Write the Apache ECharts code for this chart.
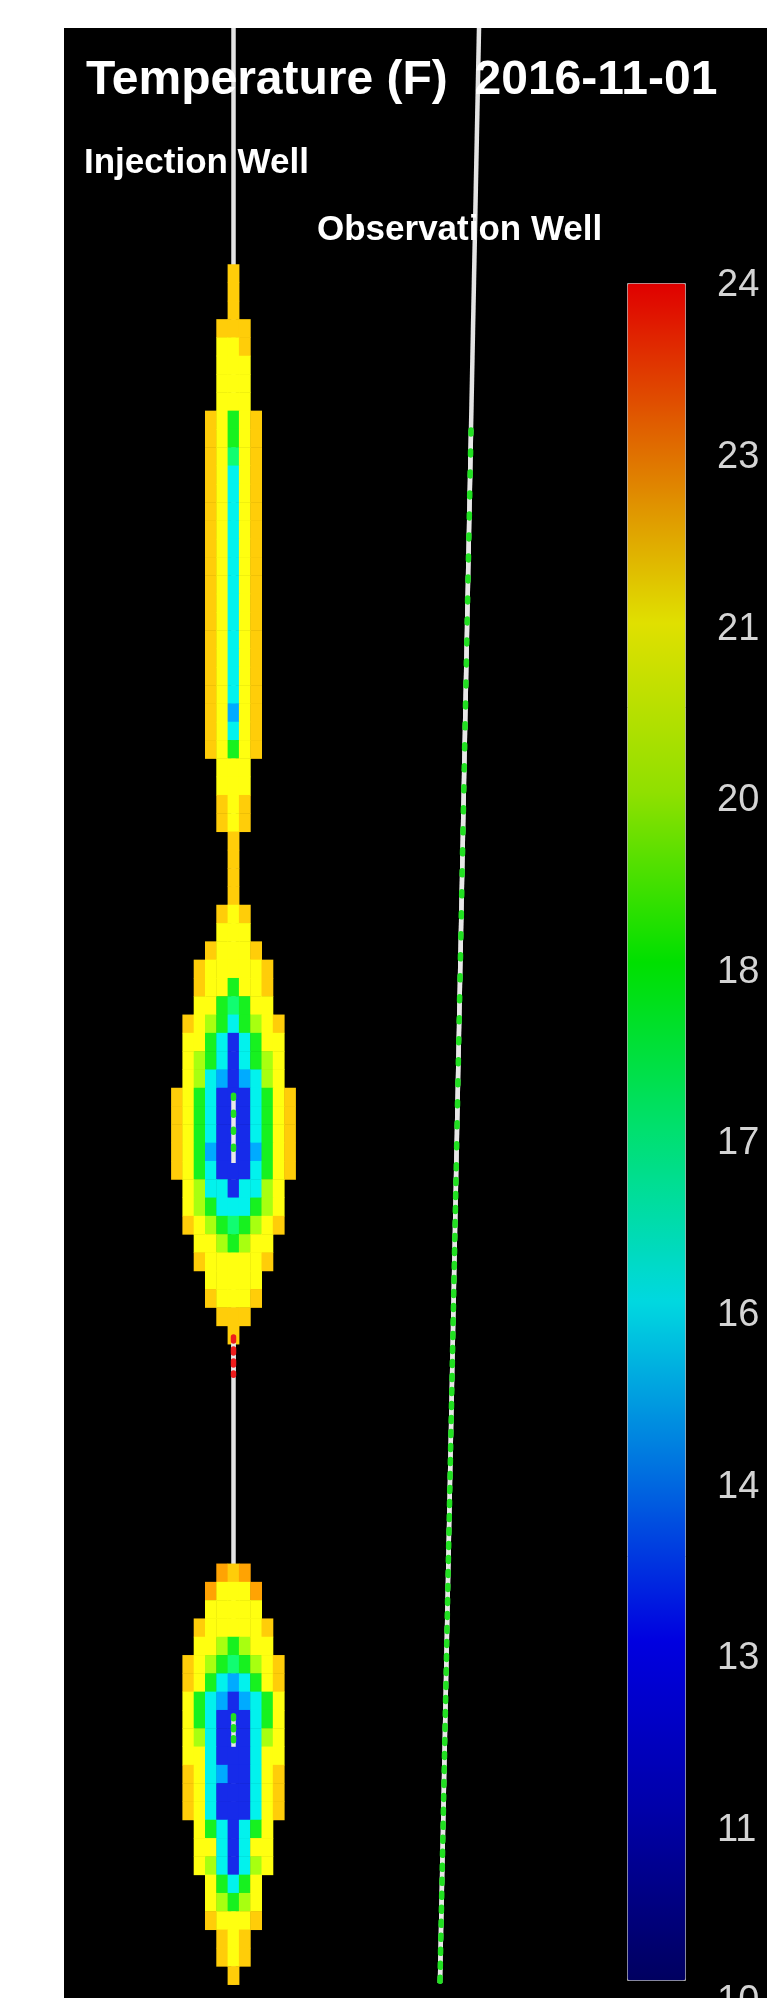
<!DOCTYPE html>
<html>
<head>
<meta charset="utf-8">
<title>Temperature (F) 2016-11-01</title>
<script src="https://cdn.jsdelivr.net/npm/echarts@6/dist/echarts.min.js"></script>
<style>
  html, body { margin: 0; padding: 0; background: #fff; }
  #chart { position: absolute; left: 64px; top: 28px; width: 703px; height: 1970px; }
</style>
</head>
<body>
<div id="chart"></div>
<script>
// colour bar: tick labels from bottom to top, and the scale limits
const colorbarTicks = ['10', '11', '13', '14', '16', '17', '18', '20', '21', '23', '24'];
const tempMin = 10;
const tempMax = 24;

// temperature (F) read for each colour found in the grid blocks
const tempByCode = { O: 22.3, o: 21.8, y: 21.2, l: 19.8, g: 18.3, t: 17.2, c: 15.8, s: 14.6, b: 13.0 };

// grid layers round the injection well, one string per layer, centred on the well
const gridCols = 11;
const gridLayers = 94;

const upperZoneStart = 0;
const upperZoneRows = [
  'o', 'o', 'o', 'ooo', 'yyo', 'yyy', 'yyy', 'yyy',
  'oygyo', 'oygyo', 'oytyo',
  'oycyo', 'oycyo', 'oycyo', 'oycyo', 'oycyo', 'oycyo', 'oycyo',
  'oycyo', 'oycyo', 'oycyo', 'oycyo', 'oycyo', 'oycyo',
  'oysyo', 'oycyo', 'oygyo',
  'yyy', 'yyy', 'oyo', 'oyo', 'o', 'o', 'o', 'o'
];

const middleZoneStart = 35;
const middleZoneRows = [
  'oyo', 'yyy', 'oyyyo', 'oyyyyyo', 'oyygyyo', 'yygtgyy',
  'oylgcglyo', 'yygcbcgyy', 'ylgcbcgly', 'ylcsbscly',
  'oygcbbbcgyo', 'oygcbbbcgyo', 'oygcbbbcgyo', 'oygsbbbsgyo', 'oygcbbbcgyo',
  'ylccbccly', 'ylgcccgly', 'oylgtglyo', 'yylglyy', 'oyyyyyo',
  'yyyyy', 'oyyyo', 'ooo', 'o'
];

const lowerZoneStart = 71;
const lowerZoneRows = [
  'OoO', 'OyyyO', 'yyyyy', 'oyyyyyo', 'yylglyy',
  'oylgtglyo', 'oygcscgyo', 'ygcsbscgy', 'ygcbbbcgy', 'ylcbbbcly',
  'yycbbbcyy', 'oycsbbcyo', 'oycbbbcyo', 'oycbbbcyo',
  'ygcbcgy', 'yycbcyy', 'ylcbcly',
  'ygcgy', 'ylgly', 'oyyyo', 'oyo', 'oyo', 'o'
];

// wells: [lateral offset in cells from the injection well, depth in layers]
const injectionWell = [[0, -13], [0, 94]];
const observationWell = [[21.73, -13], [18.27, 93.91]];

// perforated intervals: [from, to] points and marker colour
const perforations = [
  { path: [[21.02, 9.04], [19.69, 50]], color: '#22e022', dash: [4, 17] },
  { path: [[19.69, 50], [18.27, 93.91]], color: '#22e022', dash: [4, 10] },
  { path: [[0, 45.4], [0, 49.1]], color: '#22e022', dash: [3, 14] },
  { path: [[0, 58.6], [0, 60.7]], color: '#ee1c1c', dash: [4, 8] },
  { path: [[0, 79.3], [0, 81.0]], color: '#22e022', dash: [3, 8] }
];

const barColors = ['#000060', '#0000a8', '#0000e0', '#0070e0', '#00d8e0', '#00e070',
  '#00e000', '#90e000', '#e0e000', '#e07000', '#e00000'];
const cellColors = ['#00007f', '#0000c8', '#1a1ae6', '#0090ff', '#00f0ff', '#10ff80',
  '#18f018', '#a8ff10', '#ffff10', '#ff8a00', '#ff1000'];

// build heatmap cells from the layer strings
const cells = [];
[[upperZoneStart, upperZoneRows], [middleZoneStart, middleZoneRows], [lowerZoneStart, lowerZoneRows]]
  .forEach(([start, rows]) => {
    rows.forEach((pattern, i) => {
      const first = (gridCols - pattern.length) / 2;
      pattern.split('').forEach((code, j) => {
        cells.push([first + j, start + i, tempByCode[code]]);
      });
    });
  });

const colNames = Array.from({ length: gridCols }, (_, i) => String(i));
const layerNames = Array.from({ length: gridLayers }, (_, i) => String(i));

const chartW = 703, chartH = 1970;
const cellGrid = { left: 107.35, top: 236.5, width: 124.3, height: 1720.2, outerBoundsMode: 'none' };
// the well grid spans the whole panel, in the same cell units as the heatmap
const cellW = cellGrid.width / gridCols;
const cellH = cellGrid.height / gridLayers;
const wellX0 = cellGrid.left + cellGrid.width / 2;
const wellAxisX = [-wellX0 / cellW, (chartW - wellX0) / cellW];
const wellAxisY = [-cellGrid.top / cellH, (chartH - cellGrid.top) / cellH];

const wellSeries = (data, color, width, z, dash) => ({
  type: 'line',
  xAxisIndex: 1,
  yAxisIndex: 1,
  data: data,
  symbol: 'none',
  silent: true,
  z: z,
  lineStyle: { color: color, width: width, type: dash || 'solid', cap: dash ? 'round' : 'butt' }
});

const series = [
  {
    type: 'heatmap',
    xAxisIndex: 0,
    yAxisIndex: 0,
    data: cells,
    z: 2,
    silent: true,
    progressive: 0
  },
  wellSeries(injectionWell, '#e4e4e4', 4.5, 1),
  wellSeries(observationWell, '#e4e4e4', 4.5, 3)
];
perforations.forEach(p => {
  series.push(wellSeries(p.path, '#e8e8e8', 4.5, 4));
  series.push(wellSeries(p.path, p.color, 5.5, 5, p.dash));
});
// empty series that carries the colour bar
series.push({ type: 'scatter', xAxisIndex: 2, yAxisIndex: 2, data: [], silent: true });
const barSeriesIndex = series.length - 1;

const labelFont = { color: '#fff', fontWeight: 'bold', fontFamily: 'Liberation Sans' };

const chart = echarts.init(document.getElementById('chart'));
chart.setOption({
  backgroundColor: '#000',
  animation: false,
  title: [
    {
      text: 'Temperature (F)  2016-11-01',
      left: 22, top: 29, padding: 0,
      textStyle: Object.assign({ fontSize: 48 }, labelFont)
    },
    {
      text: 'Injection Well',
      left: 20, top: 118, padding: 0,
      textStyle: Object.assign({ fontSize: 35 }, labelFont)
    },
    {
      text: 'Observation Well',
      left: 253, top: 185, padding: 0,
      textStyle: Object.assign({ fontSize: 35 }, labelFont)
    }
  ],
  grid: [
    Object.assign({}, cellGrid),
    { left: 0, top: 0, width: chartW, height: chartH, outerBoundsMode: 'none' },
    { left: 563, top: 258, width: 58, height: 1716, outerBoundsMode: 'none', containLabel: false }
  ],
  xAxis: [
    { type: 'category', gridIndex: 0, data: colNames, show: false },
    { type: 'value', gridIndex: 1, min: wellAxisX[0], max: wellAxisX[1], show: false },
    { type: 'value', gridIndex: 2, min: 0, max: 1, show: false }
  ],
  yAxis: [
    { type: 'category', gridIndex: 0, data: layerNames, inverse: true, show: false },
    { type: 'value', gridIndex: 1, min: wellAxisY[0], max: wellAxisY[1], inverse: true, show: false },
    {
      type: 'category', gridIndex: 2, data: colorbarTicks, boundaryGap: false, position: 'right',
      axisLine: { show: false }, axisTick: { show: false }, splitLine: { show: false },
      axisLabel: { interval: 0, margin: 32, color: '#d4d4d4', fontSize: 38, fontFamily: 'Liberation Sans' }
    }
  ],
  visualMap: [
    {
      type: 'continuous',
      min: tempMin, max: tempMax,
      seriesIndex: barSeriesIndex,
      left: 563, top: 255,
      itemWidth: 58, itemHeight: 1697,
      padding: 0,
      calculable: false,
      hoverLink: false,
      text: null,
      borderColor: '#a8a8a8', borderWidth: 1,
      inRange: { color: barColors }
    },
    {
      type: 'continuous',
      show: false,
      min: tempMin, max: tempMax,
      seriesIndex: 0,
      inRange: { color: cellColors }
    }
  ],
  series: series
});
</script>
</body>
</html>
